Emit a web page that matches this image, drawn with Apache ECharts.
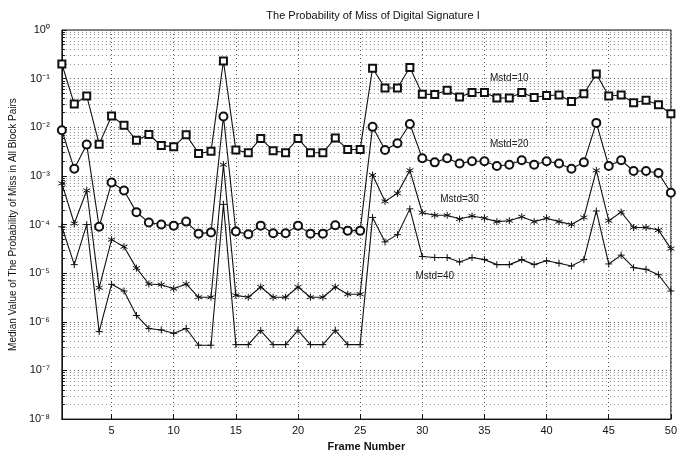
<!DOCTYPE html>
<html>
<head>
<meta charset="utf-8">
<title>The Probability of Miss of Digital Signature I</title>
<script src="https://cdn.jsdelivr.net/npm/echarts@6/dist/echarts.min.js"></script>
<style>
  html, body { margin: 0; padding: 0; background: #fff; }
  #chart { width: 680px; height: 457px; }
</style>
</head>
<body>
<div id="chart"></div>
<script>
// frame numbers on the x axis
const frames = [1, 2, 3, 4, 5, 6, 7, 8, 9, 10, 11, 12, 13, 14, 15, 16, 17, 18, 19, 20,
  21, 22, 23, 24, 25, 26, 27, 28, 29, 30, 31, 32, 33, 34, 35, 36, 37, 38, 39, 40,
  41, 42, 43, 44, 45, 46, 47, 48, 49, 50]

// median probability of miss
const mstd10 = [0.2, 0.03, 0.044, 0.0045, 0.017, 0.011, 0.0054, 0.0071, 0.0042, 0.004,
  0.007, 0.0029, 0.0032, 0.23, 0.0034, 0.003, 0.0059, 0.0033, 0.003, 0.0059,
  0.003, 0.003, 0.006, 0.0035, 0.0035, 0.164, 0.064, 0.064, 0.17, 0.048,
  0.047, 0.058, 0.042, 0.052, 0.052, 0.04, 0.04, 0.052, 0.041, 0.045,
  0.046, 0.034, 0.049, 0.124, 0.044, 0.046, 0.032, 0.036, 0.029, 0.019]
const mstd20 = [0.0087, 0.0014, 0.0044, 9e-5, 7.3e-4, 5e-4, 1.8e-4, 1.1e-4, 1.0e-4, 9.5e-5,
  1.15e-4, 6.5e-5, 6.9e-5, 0.0167, 7.2e-5, 6.3e-5, 9.5e-5, 6.6e-5, 6.6e-5, 9.5e-5,
  6.5e-5, 6.5e-5, 9.7e-5, 7.5e-5, 7.5e-5, 0.0102, 0.0034, 0.0047, 0.0117, 0.0023,
  0.0019, 0.0023, 0.0018, 0.002, 0.002, 0.0016, 0.0017, 0.0021, 0.0017, 0.002,
  0.0018, 0.0014, 0.0019, 0.0123, 0.0016, 0.0021, 0.00126, 0.00126, 0.00115, 0.00045]
const mstd30 = [7e-4, 1.05e-4, 5e-4, 5e-6, 4.9e-5, 3.5e-5, 1.27e-5, 6e-6, 5.8e-6, 4.8e-6,
  6e-6, 3.2e-6, 3.2e-6, 0.0017, 3.5e-6, 3.2e-6, 5.2e-6, 3.2e-6, 3.2e-6, 5.2e-6,
  3.2e-6, 3.2e-6, 5.2e-6, 3.7e-6, 3.7e-6, 0.00104, 3e-4, 4.4e-4, 0.0013, 1.75e-4,
  1.55e-4, 1.55e-4, 1.3e-4, 1.5e-4, 1.35e-4, 1.15e-4, 1.2e-4, 1.45e-4, 1.15e-4, 1.35e-4,
  1.15e-4, 1.0e-4, 1.4e-4, 0.0013, 1.2e-4, 1.8e-4, 8.7e-5, 8.7e-5, 7.7e-5, 3.2e-5]
const mstd40 = [9e-5, 1.5e-5, 1e-4, 6.3e-7, 5.9e-6, 4.3e-6, 1.35e-6, 7.3e-7, 6.8e-7, 5.8e-7,
  7.3e-7, 3.3e-7, 3.3e-7, 2.6e-4, 3.4e-7, 3.4e-7, 6.6e-7, 3.4e-7, 3.4e-7, 6.7e-7,
  3.4e-7, 3.4e-7, 6.7e-7, 3.4e-7, 3.4e-7, 1.4e-4, 4.4e-5, 6.2e-5, 2.1e-4, 2.2e-5,
  2.1e-5, 2.1e-5, 1.7e-5, 2.1e-5, 1.9e-5, 1.5e-5, 1.5e-5, 1.9e-5, 1.5e-5, 1.8e-5,
  1.6e-5, 1.4e-5, 1.9e-5, 1.9e-4, 1.55e-5, 2.35e-5, 1.3e-5, 1.2e-5, 9.3e-6, 4.3e-6]

const seriesNames = ['Mstd=10', 'Mstd=20', 'Mstd=30', 'Mstd=40']
const xTicks = [5, 10, 15, 20, 25, 30, 35, 40, 45, 50]

const FONT = 'Liberation Sans, Arial, sans-serif'
const supMap = { '0': '⁰', '1': '¹', '2': '²', '3': '³', '4': '⁴', '5': '⁵', '6': '⁶', '7': '⁷', '8': '⁸', '9': '⁹', '-': '⁻' }

function decadeLabel (v) {
  const e = Math.round(Math.log10(v))
  return '10' + String(e).split('').map(c => supMap[c]).join('')
}

const pairs = vals => frames.map((f, i) => [f, vals[i]])

// plus and asterisk markers (MATLAB style)
const plusPath = 'path://M0,-1L0,1M-1,0L1,0'
const starPath = 'path://M0,-1L0,1M-0.87,-0.5L0.87,0.5M-0.87,0.5L0.87,-0.5'

function makeSeries (name, vals, symbol, size, labelAt) {
  return {
    name: name,
    type: 'line',
    data: pairs(vals),
    symbol: symbol,
    symbolSize: size,
    showAllSymbol: true,
    lineStyle: { color: '#111', width: 1.1 },
    itemStyle: { color: '#111', borderColor: '#111', borderWidth: 1 },
    markPoint: {
      silent: true,
      symbol: 'circle',
      symbolSize: 1,
      itemStyle: { color: 'rgba(0,0,0,0)' },
      label: {
        show: true,
        position: 'inside',
        formatter: name,
        color: '#222',
        fontFamily: FONT,
        fontSize: 10
      },
      data: [{ coord: labelAt }]
    }
  }
}

const chart = echarts.init(document.getElementById('chart'))
const option = {
  backgroundColor: '#fff',
  animation: false,
  title: {
    text: 'The Probability of Miss of Digital Signature I',
    left: 368,
    top: 5,
    textAlign: 'center',
    textStyle: { fontFamily: FONT, fontSize: 11, fontWeight: 'normal', color: '#111' }
  },
  grid: {
    left: 59,
    right: 2,
    top: 30,
    bottom: 30,
    show: true,
    borderColor: '#111',
    borderWidth: 1
  },
  xAxis: {
    type: 'value',
    min: 1,
    max: 50,
    name: 'Frame Number',
    nameLocation: 'middle',
    nameGap: 18,
    nameTextStyle: { fontFamily: FONT, fontSize: 11, fontWeight: 'bold', color: '#111' },
    axisLine: { lineStyle: { color: '#111' } },
    axisTick: { inside: true, length: 5, customValues: xTicks, lineStyle: { color: '#111' } },
    axisLabel: { customValues: xTicks, fontFamily: FONT, fontSize: 11, color: '#111', margin: 6 },
    splitLine: { show: true, lineStyle: { type: [1, 3], color: '#555', width: 1 } }
  },
  yAxis: {
    type: 'log',
    logBase: 10,
    min: 1e-8,
    max: 1,
    splitNumber: 8,
    name: 'Median Value of The Probability of Miss in All Block Pairs',
    nameLocation: 'middle',
    nameGap: 40,
    nameTextStyle: { fontFamily: FONT, fontSize: 10, color: '#111' },
    axisLine: { lineStyle: { color: '#111' } },
    axisTick: { inside: true, length: 5, lineStyle: { color: '#111' } },
    axisLabel: { formatter: decadeLabel, fontFamily: FONT, fontSize: 11, color: '#111', margin: 12 },
    splitLine: { show: true, lineStyle: { type: [1, 3], color: '#555', width: 1 } },
    // minor grid at 2..9 within each decade
    minorTick: { show: true, splitNumber: 9, length: 3, lineStyle: { color: '#111' } },
    minorSplitLine: { show: true, lineStyle: { type: [1, 3], color: '#888', width: 1 } }
  },
  series: [
    makeSeries(seriesNames[0], mstd10, 'emptyRect', 7, [37, 0.103]),
    makeSeries(seriesNames[1], mstd20, 'emptyCircle', 8, [37, 0.0045]),
    makeSeries(seriesNames[2], mstd30, starPath, 7, [33, 3.3e-4]),
    makeSeries(seriesNames[3], mstd40, plusPath, 7, [31, 8.5e-6])
  ]
}
chart.setOption(option)
</script>
</body>
</html>
